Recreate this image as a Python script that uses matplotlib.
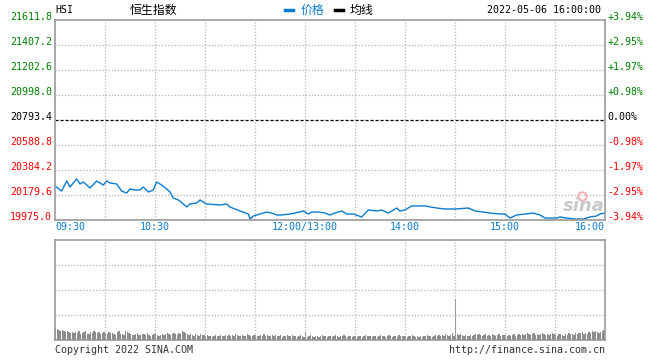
import matplotlib
matplotlib.use("Agg")

import matplotlib.pyplot as plt
import matplotlib.transforms as mtransforms
import numpy as np

# minutes since 09:30 (lunch break removed), price of HSI
price_minutes = [0, 4, 7, 9, 13, 15, 17, 21, 25, 29, 31, 33, 37, 40, 43, 45, 48, 51, 53, 56,
                 59, 61, 64, 67, 69, 71, 74, 77, 79, 81, 85, 87, 89, 91, 99, 103, 105, 111, 116, 117,
                 119, 123, 127, 130, 133, 136, 141, 144, 149, 152, 154, 158, 162, 165, 168, 172, 175, 179, 184, 188,
                 193, 196, 200, 205, 207, 210, 214, 222, 229, 234, 240, 248, 252, 261, 267, 270, 273, 277, 282, 287,
                 291, 294, 301, 303, 307, 312, 317, 321, 325, 327, 330]
price_values = [20253, 20212, 20294, 20245, 20311, 20270, 20286, 20237, 20294, 20261, 20294, 20278, 20270, 20212, 20196, 20229, 20221, 20221, 20245, 20204,
                20221, 20286, 20261, 20229, 20204, 20155, 20139, 20106, 20081, 20106, 20114, 20139, 20122, 20106, 20098, 20106, 20081, 20049, 20024, 19983,
                20008, 20024, 20040, 20032, 20016, 20016, 20024, 20032, 20049, 20024, 20040, 20040, 20032, 20016, 20032, 20049, 20024, 20024, 20000, 20057,
                20049, 20057, 20032, 20073, 20049, 20057, 20090, 20090, 20073, 20065, 20065, 20073, 20049, 20032, 20024, 20024, 19991, 20016, 20024, 20032,
                20016, 19991, 19991, 20000, 19991, 19983, 19983, 20000, 20008, 20024, 20032]

# volume per minute (relative bar height, 0-100 panel)
volume = [11, 11, 10, 9, 10, 9, 8, 9, 8, 7, 8, 7, 8, 7, 9, 6, 7, 8, 9, 6, 6, 8, 7, 9, 8, 7, 8, 6, 7, 8,
          7, 6, 8, 7, 7, 6, 5, 8, 9, 6, 6, 5, 9, 8, 7, 6, 5, 5, 6, 7, 5, 5, 6, 6, 5, 7, 5, 4, 5, 6,
          6, 5, 4, 5, 6, 5, 6, 7, 6, 5, 6, 7, 6, 5, 7, 6, 9, 8, 7, 6, 5, 6, 5, 4, 6, 5, 4, 6, 5, 5,
          4, 5, 4, 4, 3, 4, 5, 4, 4, 5, 4, 4, 5, 4, 5, 4, 5, 4, 6, 5, 4, 4, 5, 4, 4, 6, 5, 4, 4, 5,
          5, 4, 4, 5, 4, 6, 4, 5, 4, 4, 5, 4, 5, 4, 4, 5, 3, 4, 4, 5, 4, 4, 5, 4, 4, 3, 4, 5, 4, 3,
          8, 3, 4, 5, 4, 3, 4, 4, 3, 4, 5, 4, 4, 3, 4, 4, 3, 4, 5, 4, 3, 4, 4, 5, 4, 3, 4, 4, 3, 4,
          4, 3, 4, 4, 3, 4, 5, 4, 4, 4, 3, 4, 4, 3, 4, 5, 4, 4, 3, 4, 5, 4, 3, 4, 4, 3, 5, 4, 4, 4,
          4, 3, 4, 4, 5, 4, 3, 4, 3, 4, 3, 4, 4, 5, 4, 4, 3, 4, 5, 4, 5, 4, 5, 4, 6, 5, 4, 5, 7, 4,
          41, 6, 5, 6, 5, 4, 5, 4, 4, 5, 4, 5, 6, 5, 6, 5, 4, 5, 6, 4, 5, 4, 6, 5, 4, 5, 6, 4, 5, 5,
          5, 4, 5, 4, 5, 6, 4, 5, 6, 5, 6, 5, 6, 7, 6, 5, 6, 7, 5, 6, 5, 6, 7, 6, 5, 6, 5, 6, 7, 6,
          5, 4, 6, 6, 5, 4, 6, 5, 7, 6, 6, 5, 7, 6, 7, 7, 8, 6, 7, 6, 8, 7, 9, 8, 9, 8, 7, 8, 9, 10, 11]

prev_close = 20793.4
left_labels = ["21611.8", "21407.2", "21202.6", "20998.0", "20793.4", "20588.8", "20384.2", "20179.6", "19975.0"]
right_labels = ["+3.94%", "+2.95%", "+1.97%", "+0.98%", "0.00%", "-0.98%", "-1.97%", "-2.95%", "-3.94%"]
time_ticks = [0, 60, 150, 210, 270, 330]
time_labels = ["09:30", "10:30", "12:00/13:00", "14:00", "15:00", "16:00"]

mono = "DejaVu Sans Mono"
cjk = ["Noto Sans CJK SC", "DejaVu Sans"]
fs = 7.2
green = "#008000"
red = "#ff0000"
blue = "#0a7bd0"
grid_c = "#b4b4b4"
border_c = "#999999"

fig = plt.figure(figsize=(6.6, 3.6), dpi=100)
W, H = 660, 360
ax = fig.add_axes([55 / W, (H - 220) / H, 550 / W, 200 / H])
axv = fig.add_axes([55 / W, (H - 340) / H, 550 / W, 100 / H])

levels = [float(s) for s in left_labels]
ymin, ymax = levels[-1], levels[0]

# price panel
ax.set_xlim(0, 330)
ax.set_ylim(ymin, ymax)
for lv in levels[1:-1]:
    if abs(lv - prev_close) < 0.01:
        ax.axhline(lv, color="black", lw=0.9, ls=(0, (2.5, 1.5)))
    else:
        ax.axhline(lv, color=grid_c, lw=0.9, ls=(0, (1, 1.5)))
for m in range(30, 330, 30):
    ax.axvline(m, color=grid_c, lw=0.9, ls=(0, (1, 1.5)))
ax.plot(price_minutes, price_values, color=blue, lw=1.0)

up = mtransforms.ScaledTranslation(0, 2.5 / 72, fig.dpi_scale_trans)
for i, lv in enumerate(levels):
    if i < 4:
        c = green
    elif i == 4:
        c = "black"
    else:
        c = red
    ax.text(-0.005, lv, left_labels[i], transform=ax.get_yaxis_transform() + up,
            ha="right", va="center", fontsize=fs, family=mono, color=c)
    ax.text(1.004, lv, right_labels[i], transform=ax.get_yaxis_transform() + up,
            ha="left", va="center", fontsize=fs, family=mono, color=c)

for m, lab in zip(time_ticks, time_labels):
    ha = "center"
    if m == 0:
        ha = "left"
    elif m == 330:
        ha = "right"
    ax.text(m, -0.035, lab, transform=ax.get_xaxis_transform(), ha=ha, va="center",
            fontsize=fs, family=mono, color=blue)

# sina watermark
ax.text(0.962, 0.07, "sina", transform=ax.transAxes, ha="center", va="center",
        fontsize=13, fontweight="bold", style="italic", color="#c8c8c8")
ax.plot([0.958], [0.12], marker="o", ms=6, mfc="none", mec="#f4b0b0", mew=1.5,
        transform=ax.transAxes)

# volume panel
axv.set_xlim(0, 330)
axv.set_ylim(0, 100)
for lv in [25, 50, 75]:
    axv.axhline(lv, color=grid_c, lw=0.9, ls=(0, (1, 1.5)))
for m in range(30, 330, 30):
    axv.axvline(m, color=grid_c, lw=0.9, ls=(0, (1, 1.5)))
axv.bar(np.arange(len(volume)), volume, width=0.7, color="#8c8c8c", align="edge")

for a in (ax, axv):
    a.set_xticks([])
    a.set_yticks([])
    for s in a.spines.values():
        s.set_color(border_c)
        s.set_linewidth(1.2)

# header
fig.text(55 / W, 1 - 10 / H, "HSI", fontsize=fs, family=mono, va="center", ha="left")
fig.text(130 / W, 1 - 10 / H, "恒生指数", fontsize=8.6, family=cjk, va="center", ha="left")
fig.add_artist(plt.Line2D([285 / W, 293 / W], [1 - 10 / H, 1 - 10 / H], color=blue, lw=2.5))
fig.text(301 / W, 1 - 10 / H, "价格", fontsize=8.6, family=cjk, va="center", ha="left", color=blue)
fig.add_artist(plt.Line2D([335 / W, 343 / W], [1 - 10 / H, 1 - 10 / H], color="black", lw=2.5))
fig.text(350 / W, 1 - 10 / H, "均线", fontsize=8.6, family=cjk, va="center", ha="left")
fig.text(601 / W, 1 - 10 / H, "2022-05-06 16:00:00", fontsize=fs, family=mono, va="center", ha="right")

# footer
fig.text(55 / W, 1 - 350 / H, "Copyright 2022 SINA.COM", fontsize=fs, family=mono,
         va="center", ha="left", color="#333333")
fig.text(605 / W, 1 - 350 / H, "http://finance.sina.com.cn", fontsize=fs, family=mono,
         va="center", ha="right", color="#333333")

fig.savefig("out.png", dpi=100)
plt.close(fig)
